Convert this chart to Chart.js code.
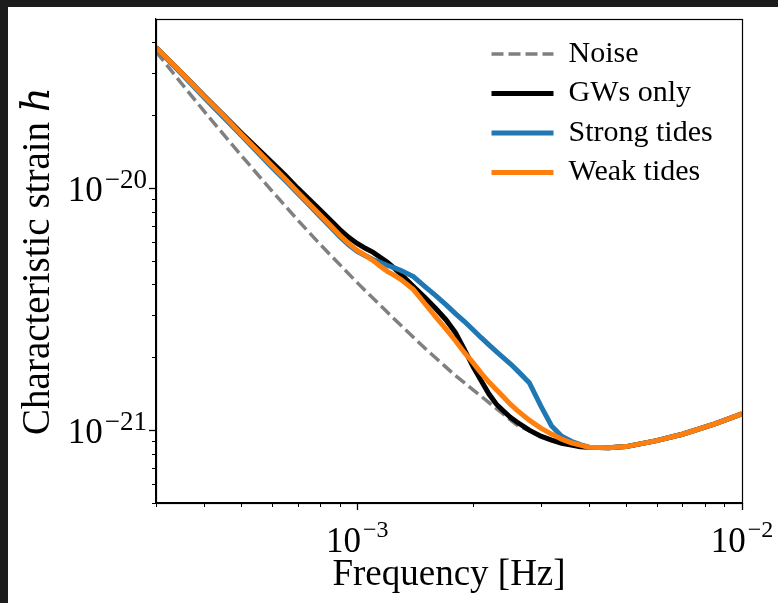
<!DOCTYPE html>
<html><head><meta charset="utf-8">
<script src="https://cdn.jsdelivr.net/npm/chart.js@4.4.1/dist/chart.umd.min.js"></script>
<style>
html,body{margin:0;padding:0;background:#1c1c1c;width:778px;height:603px;overflow:hidden;}
#wrap{position:absolute;left:8px;top:7px;width:770px;height:596px;background:#fff;}
canvas{display:block;}
</style></head><body>
<div id="wrap"><canvas id="c" width="770" height="596"></canvas></div>
<script>
const FONT = "'Liberation Serif','DejaVu Serif',serif";
const seriesLabels = ['Noise', 'GWs only', 'Strong tides', 'Weak tides'];
const seriesColors = ['#808080', '#000000', '#1f77b4', '#ff7f0e'];

// Noise curve (Hz, characteristic strain)
const noiseFreq = [3e-4, 3.5e-4, 4e-4, 5e-4, 6e-4, 7e-4, 8e-4, 1e-3, 1.2e-3, 1.5e-3, 1.8e-3, 2.2e-3, 2.6e-3, 3e-3, 3.5e-3, 4e-3, 4.5e-3, 5e-3, 6e-3, 7e-3, 8.5e-3, 1e-2];
const noiseStrain = [3.67e-20, 2.70e-20, 2.08e-20, 1.363e-20, 9.75e-21, 7.39e-21, 5.87e-21, 4.07e-21, 3.06e-21, 2.18e-21, 1.68e-21, 1.30e-21, 1.05e-21, 9.44e-22, 8.83e-22, 8.50e-22, 8.45e-22, 8.55e-22, 9.05e-22, 9.62e-22, 1.061e-21, 1.168e-21];

// Signal curves share one frequency grid
const sigFreq = [3e-4, 3.5e-4, 4e-4, 4.5e-4, 5e-4, 5.5e-4, 6e-4, 6.5e-4, 7e-4, 7.5e-4, 8e-4, 8.5e-4, 9e-4, 9.5e-4,
  1e-3, 1.05e-3, 1.1e-3, 1.15e-3, 1.2e-3, 1.25e-3, 1.3e-3, 1.4e-3, 1.5e-3, 1.6e-3, 1.7e-3, 1.8e-3, 1.9e-3, 2.0e-3,
  2.1e-3, 2.2e-3, 2.3e-3, 2.4e-3, 2.5e-3, 2.6e-3, 2.8e-3, 3.0e-3, 3.2e-3, 3.4e-3, 3.6e-3, 3.8e-3, 4.0e-3,
  4.5e-3, 5e-3, 6e-3, 7e-3, 8.5e-3, 1e-2];
const gwStrain = [3.81e-20, 2.99e-20, 2.41e-20, 2.00e-20, 1.69e-20, 1.46e-20, 1.28e-20, 1.13e-20, 1.00e-20, 9.00e-21, 8.14e-21, 7.40e-21, 6.76e-21, 6.26e-21,
  5.91e-21, 5.64e-21, 5.43e-21, 5.17e-21, 4.93e-21, 4.66e-21, 4.40e-21, 3.92e-21, 3.53e-21, 3.18e-21, 2.86e-21, 2.53e-21, 2.15e-21, 1.83e-21,
  1.60e-21, 1.41e-21, 1.28e-21, 1.20e-21, 1.13e-21, 1.08e-21, 1.00e-21, 9.44e-22, 9.09e-22, 8.83e-22, 8.67e-22, 8.54e-22, 8.50e-22,
  8.45e-22, 8.55e-22, 9.05e-22, 9.62e-22, 1.061e-21, 1.168e-21];
const strongStrain = [3.81e-20, 2.96e-20, 2.37e-20, 1.96e-20, 1.65e-20, 1.41e-20, 1.22e-20, 1.075e-20, 9.52e-21, 8.51e-21, 7.65e-21, 6.94e-21, 6.31e-21, 5.83e-21,
  5.48e-21, 5.25e-21, 5.07e-21, 4.93e-21, 4.79e-21, 4.68e-21, 4.57e-21, 4.31e-21, 3.92e-21, 3.60e-21, 3.30e-21, 3.03e-21, 2.81e-21, 2.60e-21,
  2.41e-21, 2.25e-21, 2.11e-21, 1.99e-21, 1.88e-21, 1.77e-21, 1.57e-21, 1.26e-21, 1.04e-21, 9.44e-22, 9.00e-22, 8.71e-22, 8.50e-22,
  8.45e-22, 8.55e-22, 9.05e-22, 9.62e-22, 1.061e-21, 1.168e-21];
const weakStrain = [3.81e-20, 2.99e-20, 2.40e-20, 1.99e-20, 1.67e-20, 1.43e-20, 1.24e-20, 1.09e-20, 9.65e-21, 8.63e-21, 7.76e-21, 7.04e-21, 6.40e-21, 5.91e-21,
  5.53e-21, 5.27e-21, 5.02e-21, 4.75e-21, 4.52e-21, 4.36e-21, 4.19e-21, 3.81e-21, 3.33e-21, 2.94e-21, 2.62e-21, 2.34e-21, 2.09e-21, 1.90e-21,
  1.72e-21, 1.58e-21, 1.47e-21, 1.37e-21, 1.28e-21, 1.21e-21, 1.10e-21, 1.02e-21, 9.63e-22, 9.18e-22, 8.87e-22, 8.67e-22, 8.50e-22,
  8.45e-22, 8.55e-22, 9.05e-22, 9.62e-22, 1.061e-21, 1.168e-21];

// Axis ranges and ticks
const xRange = [3e-4, 1e-2];
const yRange = [5e-22, 5e-20];
const xTickValues = [3e-4, 4e-4, 5e-4, 6e-4, 7e-4, 8e-4, 9e-4, 1e-3, 2e-3, 3e-3, 4e-3, 5e-3, 6e-3, 7e-3, 8e-3, 9e-3, 1e-2];
const yTickValues = [5e-22, 6e-22, 7e-22, 8e-22, 9e-22, 1e-21, 2e-21, 3e-21, 4e-21, 5e-21, 6e-21, 7e-21, 8e-21, 9e-21, 1e-20, 2e-20, 3e-20, 4e-20];
const xMajorTicks = [1e-3, 1e-2];
const xMajorExps = ['\u22123', '\u22122'];
const yMajorTicks = [1e-21, 1e-20];
const yMajorExps = ['\u221221', '\u221220'];

const toPts = (xs, ys) => xs.map((x, i) => ({x: x, y: ys[i]}));
const near = (a, b) => Math.abs(Math.log10(a) - Math.log10(b)) < 1e-6;
const isMajorX = v => xMajorTicks.some(m => near(m, v));
const isMajorY = v => yMajorTicks.some(m => near(m, v));

function drawPow(ctx, exp, x, baseline, align, baseSize, expSize, raise) {
  ctx.font = baseSize + 'px ' + FONT;
  const wb = ctx.measureText('10').width;
  ctx.font = expSize + 'px ' + FONT;
  const we = ctx.measureText(exp).width;
  const gap = 2;
  const total = wb + gap + we;
  const left = align === 'center' ? x - total / 2 : x - total;
  ctx.textAlign = 'left';
  ctx.textBaseline = 'alphabetic';
  ctx.font = baseSize + 'px ' + FONT;
  ctx.fillText('10', left, baseline);
  ctx.font = expSize + 'px ' + FONT;
  ctx.fillText(exp, left + wb + gap, baseline - raise);
}

const powLabels = {
  id: 'powLabels',
  afterDraw(chart) {
    const ctx = chart.ctx, ca = chart.chartArea;
    ctx.save();
    ctx.fillStyle = '#000';
    xMajorTicks.forEach((v, i) => {
      const px = chart.scales.x.getPixelForValue(v);
      drawPow(ctx, xMajorExps[i], px, ca.bottom + 49, 'center', 35, 24, 15);
    });
    yMajorTicks.forEach((v, i) => {
      const py = chart.scales.y.getPixelForValue(v);
      drawPow(ctx, yMajorExps[i], ca.left - 9, py + 13, 'right', 35, 27, 13);
    });
    ctx.restore();
  }
};

const tickMarks = {
  id: 'tickMarks',
  afterDraw(chart) {
    const ctx = chart.ctx, ca = chart.chartArea, sx = chart.scales.x, sy = chart.scales.y;
    ctx.save();
    ctx.strokeStyle = '#000';
    xTickValues.forEach(v => {
      const maj = isMajorX(v);
      const px = Math.round(sx.getPixelForValue(v)) + 0.5;
      ctx.lineWidth = maj ? 1.3 : 1;
      ctx.beginPath(); ctx.moveTo(px, ca.bottom); ctx.lineTo(px, ca.bottom + (maj ? 7 : 4)); ctx.stroke();
    });
    yTickValues.forEach(v => {
      const maj = isMajorY(v);
      const py = Math.round(sy.getPixelForValue(v)) + 0.5;
      ctx.lineWidth = maj ? 1.3 : 1;
      ctx.beginPath(); ctx.moveTo(ca.left, py); ctx.lineTo(ca.left - (maj ? 7 : 4), py); ctx.stroke();
    });
    ctx.restore();
  }
};

const frame = {
  id: 'frame',
  afterDatasetsDraw(chart) {
    const ctx = chart.ctx, ca = chart.chartArea;
    ctx.save();
    ctx.strokeStyle = '#000';
    ctx.lineWidth = 1.2;
    ctx.strokeRect(Math.round(ca.left) + 0.5, Math.round(ca.top) + 0.5, Math.round(ca.right - ca.left), Math.round(ca.bottom - ca.top));
    ctx.restore();
  }
};

const legendPlace = {
  id: 'legendPlace',
  beforeDraw(chart) {
    const lg = chart.legend, ca = chart.chartArea;
    if (!lg) return;
    lg.left = ca.right - 260;
    lg.top = ca.top + 10.5;
  }
};

const scaleCommon = () => ({
  type: 'logarithmic',
  ticks: {display: false, autoSkip: false},
  grid: {display: false},
  border: {display: true, color: '#000', width: 1.2}
});

new Chart(document.getElementById('c'), {
  type: 'line',
  data: {
    datasets: [
      {label: seriesLabels[0], data: toPts(noiseFreq, noiseStrain), borderColor: seriesColors[0], backgroundColor: seriesColors[0], borderWidth: 3.5, borderDash: [12, 5], order: 4, clip: 0},
      {label: seriesLabels[1], data: toPts(sigFreq, gwStrain), borderColor: seriesColors[1], backgroundColor: seriesColors[1], borderWidth: 5, order: 3, clip: 0},
      {label: seriesLabels[2], data: toPts(sigFreq, strongStrain), borderColor: seriesColors[2], backgroundColor: seriesColors[2], borderWidth: 5, order: 2, clip: 0},
      {label: seriesLabels[3], data: toPts(sigFreq, weakStrain), borderColor: seriesColors[3], backgroundColor: seriesColors[3], borderWidth: 5, order: 1, clip: 0}
    ]
  },
  options: {
    responsive: false,
    animation: false,
    devicePixelRatio: 1,
    elements: {point: {radius: 0}, line: {tension: 0, fill: false}},
    layout: {padding: {left: 0, top: 12, right: 36, bottom: 0}},
    scales: {
      x: Object.assign(scaleCommon(), {
        position: 'bottom', min: xRange[0], max: xRange[1],
        afterBuildTicks: s => { s.ticks = xTickValues.map(v => ({value: v, major: isMajorX(v)})); },
        afterFit: s => { s.height = 100; },
        title: {display: true, text: 'Frequency [Hz]', color: '#000', font: {family: FONT, size: 37}, padding: {top: 0, bottom: 6}}
      }),
      y: Object.assign(scaleCommon(), {
        position: 'left', min: yRange[0], max: yRange[1],
        afterBuildTicks: s => { s.ticks = yTickValues.map(v => ({value: v, major: isMajorY(v)})); },
        afterFit: s => { s.width = 148; },
        title: {display: true, text: 'Characteristic strain \u210E', color: '#000', font: {family: FONT, size: 39}, padding: {top: 7, bottom: 0}}
      })
    },
    plugins: {
      tooltip: {enabled: false},
      legend: {
        position: 'chartArea', align: 'start',
        labels: {usePointStyle: true, pointStyle: 'line', pointStyleWidth: 62, color: '#000',
                 font: {family: FONT, size: 30}, padding: 9.5,
                 sort: (a, b) => a.datasetIndex - b.datasetIndex,
                 generateLabels: chart => {
                   const items = Chart.defaults.plugins.legend.labels.generateLabels(chart);
                   items.forEach(it => {
                     const ds = chart.data.datasets[it.datasetIndex];
                     it.lineDash = ds.borderDash || [];
                     it.lineWidth = ds.borderWidth;
                     it.strokeStyle = ds.borderColor;
                     it.pointStyle = 'line';
                   });
                   return items;
                 }}
      }
    }
  },
  plugins: [legendPlace, frame, tickMarks, powLabels]
});
</script></body></html>
